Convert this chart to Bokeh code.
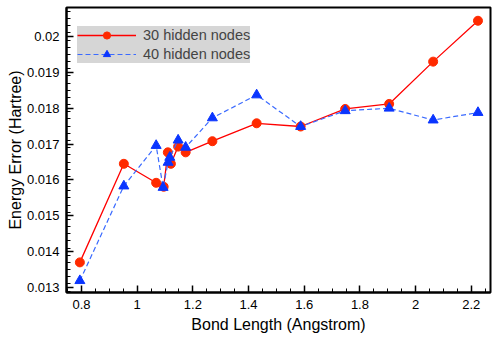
from bokeh.plotting import figure
from bokeh.models import FixedTicker, Legend
from bokeh.embed import file_html
from bokeh.resources import INLINE
import numpy as np

bond_length = [0.794, 0.952, 1.068, 1.095, 1.110, 1.121, 1.147, 1.174, 1.270,
               1.429, 1.587, 1.747, 1.905, 2.063, 2.224]
err_30 = [0.01370, 0.01645, 0.01592, 0.01581, 0.01677, 0.01645, 0.01693, 0.01677,
          0.01708, 0.01758, 0.01749, 0.01798, 0.01812, 0.01930, 0.02044]
bond_length_40 = [0.794, 0.952, 1.068, 1.093, 1.111, 1.117, 1.147, 1.174, 1.270,
                  1.429, 1.587, 1.747, 1.905, 2.063, 2.224]
err_40 = [0.01319, 0.01583, 0.01696, 0.01579, 0.01649, 0.01663, 0.01711, 0.01691,
          0.01773, 0.01837, 0.01749, 0.01793, 0.01800, 0.01767, 0.01788]

x_ticks = [0.8, 1.0, 1.2, 1.4, 1.6, 1.8, 2.0, 2.2]
x_tick_labels = ["0.8", "1", "1.2", "1.4", "1.6", "1.8", "2", "2.2"]
y_ticks = [0.013, 0.014, 0.015, 0.016, 0.017, 0.018, 0.019, 0.02]
y_tick_labels = ["0.013", "0.014", "0.015", "0.016", "0.017", "0.018", "0.019", "0.02"]

FONT = "Liberation Sans"

p = figure(width=492, height=344, output_backend="svg", toolbar_location=None,
           x_range=(0.746, 2.269), y_range=(0.01286, 0.02081),
           min_border_left=66, min_border_right=2, min_border_top=7, min_border_bottom=52)

p.outline_line_color = "black"
p.outline_line_width = 2
p.grid.visible = False
p.background_fill_color = "white"

r1l = p.line(bond_length, err_30, line_color="red", line_width=1.3)
r1m = p.scatter(bond_length, err_30, marker="circle", size=9, fill_color="#ff2a00",
                line_color="#ff2a00")
r2l = p.line(bond_length_40, err_40, line_color="#3a6aff", line_width=1.2, line_dash="5 3")
r2m = p.scatter(bond_length_40, err_40, marker="triangle", size=10, fill_color="#0a35ff",
                line_color="#0a35ff")

xminor = list(np.round(np.arange(0.75, 2.27, 0.05), 4))
yminor = list(np.round(np.arange(0.0129, 0.0208, 0.0002), 5))

p.xaxis.ticker = FixedTicker(ticks=x_ticks, minor_ticks=xminor)
p.yaxis.ticker = FixedTicker(ticks=y_ticks, minor_ticks=yminor)
p.xaxis.major_label_overrides = dict(zip(x_ticks, x_tick_labels))
p.yaxis.major_label_overrides = dict(zip(y_ticks, y_tick_labels))

for ax in (p.xaxis[0], p.yaxis[0]):
    ax.axis_line_width = 2
    ax.axis_line_color = "black"
    ax.major_tick_in = 7
    ax.major_tick_out = 0
    ax.minor_tick_in = 4
    ax.minor_tick_out = 0
    ax.major_tick_line_width = 1.5
    ax.minor_tick_line_width = 1
    ax.major_label_text_font = FONT
    ax.major_label_text_font_size = "13px"
    ax.major_label_text_color = "black"
    ax.axis_label_text_font = FONT
    ax.axis_label_text_font_size = "16px"
    ax.axis_label_text_font_style = "normal"
    ax.axis_label_text_color = "black"

p.xaxis.axis_label = "Bond Length (Angstrom)"
p.yaxis.axis_label = "Energy Error (Hartree)"
p.xaxis.major_label_standoff = 7
p.yaxis.major_label_standoff = 7
p.xaxis.axis_label_standoff = 4
p.yaxis.axis_label_standoff = 0


def style_legend(lg):
    lg.border_line_color = None
    lg.label_text_font = FONT
    lg.label_text_font_size = "14.5px"
    lg.glyph_width = 59
    lg.glyph_height = 18
    lg.label_height = 18
    lg.label_standoff = 7
    lg.spacing = 1
    lg.padding = 3
    lg.margin = 0


legend = Legend(items=[("30 hidden nodes", [r1l]), ("40 hidden nodes", [r2l, r2m])],
                location=(11, 229))
style_legend(legend)
legend.background_fill_color = "#d6d6d6"
legend.background_fill_alpha = 1
p.add_layout(legend, "center")

# marker overlay for the first legend row
legend_marker = Legend(items=[("30 hidden nodes", [r1m])], location=(11, 248))
style_legend(legend_marker)
legend_marker.background_fill_alpha = 0
legend_marker.label_text_alpha = 0
p.add_layout(legend_marker, "center")

open("out.html", "w").write(file_html(p, INLINE))
